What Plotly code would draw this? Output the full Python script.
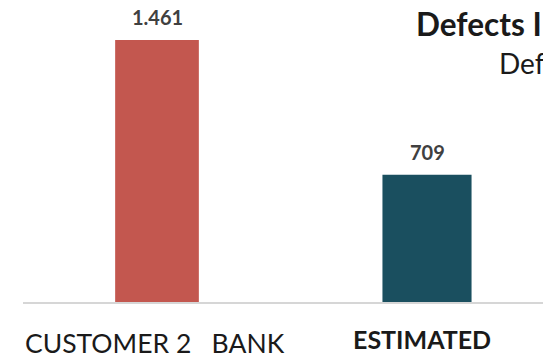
import plotly.graph_objects as go

# Chart data
categories = ["CUSTOMER 2\u00a0\u00a0\u00a0BANK", "ESTIMATED"]
defects = [1461, 709]
bar_colors = ["#C3574F", "#1A4F5F"]
bar_widths = [0.31, 0.33]
title_text = "Defects I"
subtitle_text = "Defects"

FONT = "Lato"
W, H = 543, 357
M_L, M_R, M_T, M_B = 23, 0, 0, 55
plot_w = W - M_L - M_R
px_per_cat = 270.0
x0 = -(157 - M_L) / px_per_cat
x_range = [x0, x0 + plot_w / px_per_cat]
y_range = [0, 1684]


def fmt(v):
    # European style thousands separator
    return f"{v:,}".replace(",", ".")


xs = list(range(len(categories)))

fig = go.Figure(
    go.Bar(
        x=xs,
        y=defects,
        width=bar_widths,
        marker=dict(color=bar_colors, line=dict(width=0)),
        hoverinfo="skip",
    )
)

annotations = []
# value labels above bars
for x, v in zip(xs, defects):
    annotations.append(dict(
        x=x, y=v, xref="x", yref="y", text=f"<b>{fmt(v)}</b>",
        showarrow=False, xanchor="center", yanchor="bottom", yshift=9,
        font=dict(family=FONT, size=20, color="#404040"),
    ))

# category labels under the axis
annotations.append(dict(
    x=0, y=0, xref="x", yref="y", text=categories[0],
    showarrow=False, xanchor="center", yanchor="top", yshift=-23, xshift=-2,
    font=dict(family=FONT, size=26.5, color="#1a1a1a"),
))
annotations.append(dict(
    x=1, y=0, xref="x", yref="y", text=f"<b>{categories[1]}</b>",
    showarrow=False, xanchor="center", yanchor="top", yshift=-20, xshift=-5,
    font=dict(family=FONT, size=25, color="#1a1a1a"),
))

# title block
annotations.append(dict(
    x=(414 - M_L) / plot_w, y=1, xref="paper", yref="paper",
    text=f"<b>{title_text}</b>", showarrow=False,
    xanchor="left", yanchor="top", yshift=-3,
    font=dict(family=FONT, size=31.5, color="#1a1a1a"),
))
annotations.append(dict(
    x=(497 - M_L) / plot_w, y=1, xref="paper", yref="paper",
    text=subtitle_text, showarrow=False,
    xanchor="left", yanchor="top", yshift=-44,
    font=dict(family=FONT, size=28, color="#1a1a1a"),
))

fig.update_layout(
    width=W, height=H,
    margin=dict(l=M_L, r=M_R, t=M_T, b=M_B, pad=0),
    paper_bgcolor="white", plot_bgcolor="white",
    showlegend=False,
    annotations=annotations,
    xaxis=dict(range=x_range, showgrid=False, zeroline=False,
               showticklabels=False, ticks="",
               showline=True, linecolor="#d6d6d6", linewidth=2),
    yaxis=dict(range=y_range, visible=False, showgrid=False, zeroline=False),
)

fig.write_html("out.html")
